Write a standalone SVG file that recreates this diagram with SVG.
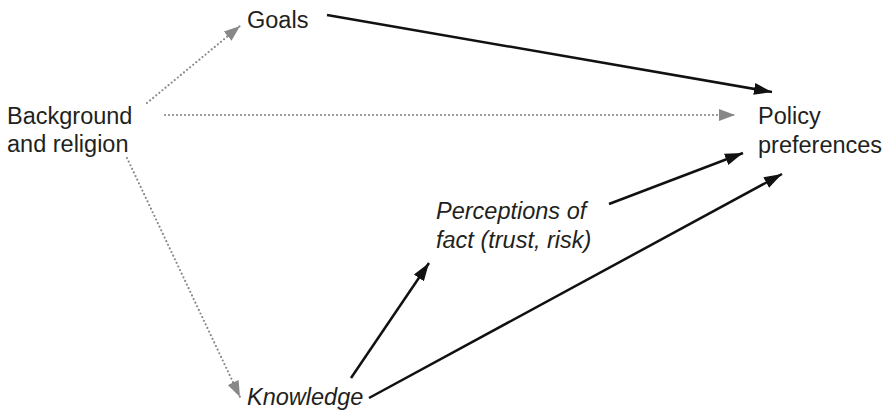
<svg xmlns="http://www.w3.org/2000/svg" width="888" height="414" viewBox="0 0 888 414">
<style>
text{font-family:"Liberation Sans",Arial,sans-serif;font-size:23.5px;fill:#231f20}
.it{font-style:italic}
.solid{stroke:#111;stroke-width:2.5;fill:none}
.dot{stroke:#888;stroke-width:2.2;fill:none;stroke-dasharray:0 4;stroke-linecap:round}
</style>
<defs>
<marker id="ab" markerUnits="userSpaceOnUse" markerWidth="20" markerHeight="14" refX="18" refY="6" orient="auto" viewBox="0 0 20 12">
<path d="M0,0 L18,6 L0,12 Z" fill="#111"/>
</marker>
<marker id="ag" markerUnits="userSpaceOnUse" markerWidth="18" markerHeight="14" refX="16" refY="6" orient="auto" viewBox="0 0 18 12">
<path d="M0,0 L16,6 L0,12 Z" fill="#888"/>
</marker>
</defs>
<g id="connectors">
<line class="solid" x1="327" y1="15" x2="772" y2="92" marker-end="url(#ab)"/>
<line class="dot" x1="147" y1="103" x2="240" y2="26" marker-end="url(#ag)"/>
<line class="dot" x1="165" y1="115" x2="735" y2="115" marker-end="url(#ag)"/>
<line class="dot" x1="127" y1="158" x2="240" y2="397" marker-end="url(#ag)"/>
<line class="solid" x1="609" y1="204" x2="743" y2="153" marker-end="url(#ab)"/>
<line class="solid" x1="351" y1="378" x2="429" y2="263" marker-end="url(#ab)"/>
<line class="solid" x1="369" y1="398" x2="782" y2="174" marker-end="url(#ab)"/>
</g>
<g id="goals"><text x="247" y="28">Goals</text></g>
<g id="background"><text x="7" y="124">Background</text><text x="7" y="152">and religion</text></g>
<g id="policy"><text x="758" y="124">Policy</text><text x="758" y="153">preferences</text></g>
<g id="perceptions"><text class="it" x="436" y="219">Perceptions of</text><text class="it" x="436" y="248">fact (trust, risk)</text></g>
<g id="knowledge"><text class="it" x="247" y="405">Knowledge</text></g>
</svg>
